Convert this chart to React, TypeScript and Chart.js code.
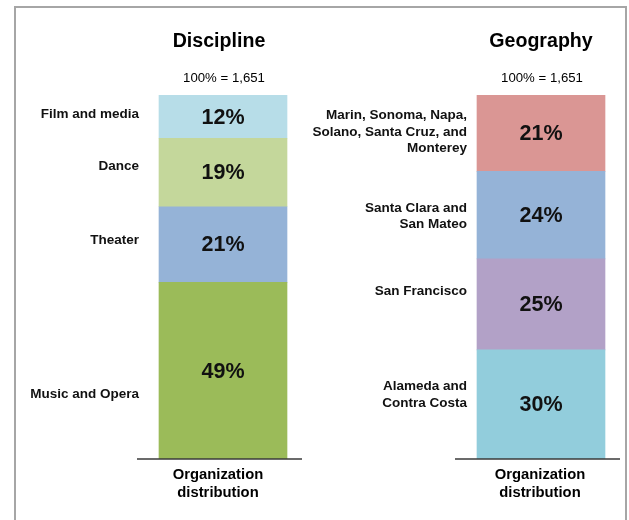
import React, { useEffect, useRef } from "react";
import { Chart, registerables } from "chart.js";

Chart.register(...registerables);

// ---- data ----
const panelTitles = ["Discipline", "Geography"];
const panelTotals = ["100% = 1,651", "100% = 1,651"];
const axisLabelLines = ["Organization", "distribution"];

// bottom to top
const disciplineCategories = [["Music and Opera"], ["Theater"], ["Dance"], ["Film and media"]];
const disciplineValues = [49, 21, 19, 12];

const geographyCategories = [
  ["Alameda and", "Contra Costa"],
  ["San Francisco"],
  ["Santa Clara and", "San Mateo"],
  ["Marin, Sonoma, Napa,", "Solano, Santa Cruz, and", "Monterey"],
];
const geographyValues = [30, 25, 24, 21];

// ---- styles ----
const disciplineColors = ["#9BBB59", "#95B3D7", "#C4D79B", "#B7DDE8"];
const geographyColors = ["#92CDDC", "#B2A1C7", "#95B3D7", "#DA9694"];
const disciplineLabelNudge = [24, -4, -6, -2];
const geographyLabelNudge = [-9.5, -13.5, 1, -1];
const labelGap = [20, 10];
const titleNudge = [-4, 0];
const bottomNudge = [-5, -1];
const FONT = "'Liberation Sans', Arial, Helvetica, sans-serif";

const sum = (a: number[]) => a.reduce((s, v) => s + v, 0);

export default function App() {
  const ref = useRef<HTMLCanvasElement | null>(null);

  useEffect(() => {
    if (!ref.current) return;

    const datasets: any[] = [];
    disciplineValues.forEach((v, i) => {
      datasets.push({
        label: disciplineCategories[i].join(" "),
        data: [{ x: 0, y: v }],
        backgroundColor: disciplineColors[i],
        borderWidth: 0,
        yAxisID: "y",
        panel: 0,
        cat: disciplineCategories[i],
        nudge: disciplineLabelNudge[i],
      });
    });
    geographyValues.forEach((v, i) => {
      datasets.push({
        label: geographyCategories[i].join(" "),
        data: [{ x: 1, y: v }],
        backgroundColor: geographyColors[i],
        borderWidth: 0,
        yAxisID: "y2",
        panel: 1,
        cat: geographyCategories[i],
        nudge: geographyLabelNudge[i],
      });
    });

    const textPlugin = {
      id: "textPlugin",
      afterDraw(chart: any) {
        const ctx = chart.ctx as CanvasRenderingContext2D;
        ctx.save();
        // frame
        ctx.strokeStyle = "#A6A6A6";
        ctx.lineWidth = 2;
        ctx.strokeRect(15, 7, 611, 700);

        const panels: any[] = [{ els: [] }, { els: [] }];
        chart.data.datasets.forEach((ds: any, i: number) => {
          const meta = chart.getDatasetMeta(i);
          const el = meta.data[0];
          const p = el.getProps(["x", "y", "base", "width"], true);
          panels[ds.panel].els.push({ ds, p });
        });

        panels.forEach((panel, pi) => {
          const first = panel.els[0].p;
          const last = panel.els[panel.els.length - 1].p;
          const cx = first.x;
          const left = first.x - first.width / 2;
          const right = first.x + first.width / 2;
          const bottom = first.base;

          // axis line
          ctx.strokeStyle = "#3A3A3A";
          ctx.lineWidth = 1.5;
          ctx.beginPath();
          ctx.moveTo(left - 22, bottom);
          ctx.lineTo(right + 15, bottom);
          ctx.stroke();

          ctx.fillStyle = "#000";
          ctx.textAlign = "center";
          ctx.textBaseline = "middle";
          ctx.font = `bold 19.6px ${FONT}`;
          ctx.fillText(panelTitles[pi], cx + titleNudge[pi], 42);
          ctx.font = `13.2px ${FONT}`;
          ctx.fillText(panelTotals[pi], cx + 1, last.y - 17);

          ctx.font = `bold 14.8px ${FONT}`;
          axisLabelLines.forEach((t, k) => ctx.fillText(t, cx + bottomNudge[pi], bottom + 16 + k * 18));

          panel.els.forEach(({ ds, p }: any) => {
            const mid = (p.y + p.base) / 2;
            ctx.textAlign = "center";
            ctx.font = `bold 21.5px ${FONT}`;
            ctx.fillStyle = "#111";
            ctx.fillText(`${ds.data[0].y}%`, p.x, mid + 1);

            ctx.textAlign = "right";
            ctx.font = `bold 13.5px ${FONT}`;
            const lines: string[] = ds.cat;
            const lh = 16.5;
            const y0 = mid + ds.nudge - ((lines.length - 1) * lh) / 2;
            lines.forEach((t, k) => ctx.fillText(t, left - labelGap[pi], y0 + k * lh));
          });
        });
        ctx.restore();
      },
    };

    const chart = new Chart(ref.current, {
      type: "bar",
      data: { datasets },
      options: {
        animation: false,
        responsive: false,
        parsing: true,
        layout: { padding: { top: 95, bottom: 61, left: 0, right: 0 } },
        datasets: { bar: { grouped: false, barThickness: 128 } } as any,
        plugins: { legend: { display: false }, tooltip: { enabled: false }, title: { display: false } },
        scales: {
          x: {
            type: "linear",
            offset: false,
            grid: { offset: false },
            min: -223 / 318,
            max: (629 - 223) / 318,
            display: false,
            stacked: true,
          },
          y: { type: "linear", min: 0, max: sum(disciplineValues), display: false, stacked: true },
          y2: { type: "linear", min: 0, max: sum(geographyValues), display: false, stacked: true },
        },
      },
      plugins: [textPlugin],
    } as any);

    return () => chart.destroy();
  }, []);

  return (
    <div style={{ position: "absolute", left: 0, top: 0, width: 629, height: 520, background: "#fff" }}>
      <canvas ref={ref} width={629} height={520} style={{ display: "block" }} />
    </div>
  );
}
